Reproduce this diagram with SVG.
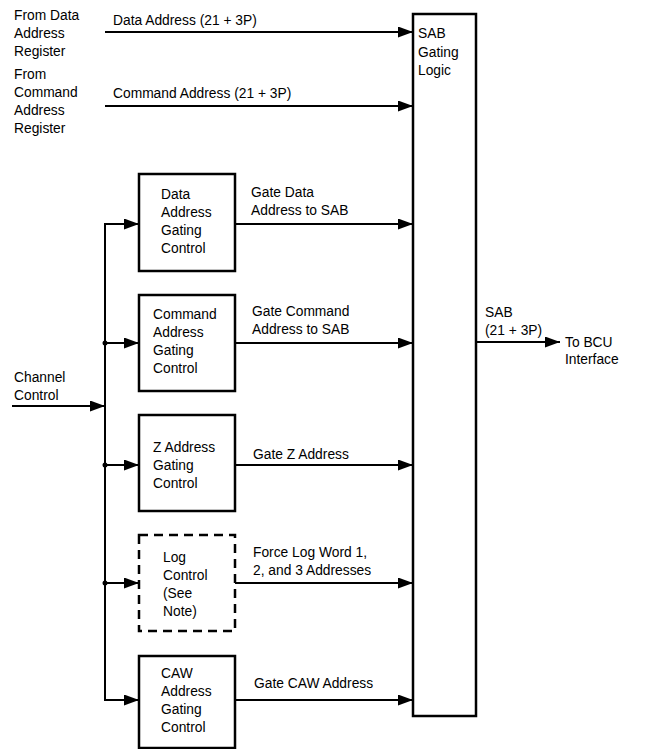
<svg xmlns="http://www.w3.org/2000/svg" width="645" height="749" viewBox="0 0 645 749">
<style>
text{font-family:"Liberation Sans",Arial,sans-serif;font-size:13.8px;fill:#000}
.box{fill:#fff;stroke:#000;stroke-width:2.5}
.dash{stroke-dasharray:9,6}
.ln{fill:none;stroke:#000;stroke-width:2}
</style>
<defs>
<marker id="ah" viewBox="0 0 15 11" refX="15" refY="5.5" markerWidth="15" markerHeight="11" markerUnits="userSpaceOnUse" orient="auto">
<path d="M0,0 L15,5.5 L0,11 z" fill="#000"/>
</marker>
</defs>
<g id="labels-left">
<text x="14" y="20">From Data</text>
<text x="14" y="38">Address</text>
<text x="14" y="56">Register</text>
<text x="14" y="79">From</text>
<text x="14" y="97">Command</text>
<text x="14" y="115">Address</text>
<text x="14" y="133">Register</text>
<text x="14" y="382">Channel</text>
<text x="14" y="400">Control</text>
</g>
<g id="sab">
<rect class="box" x="413" y="14" width="63" height="702"/>
<text x="418" y="38">SAB</text>
<text x="418" y="57">Gating</text>
<text x="418" y="75">Logic</text>
</g>
<g id="data-gating">
<rect class="box" x="139" y="174" width="96" height="97"/>
<text x="161" y="199">Data</text>
<text x="161" y="217">Address</text>
<text x="161" y="235">Gating</text>
<text x="161" y="253">Control</text>
</g>
<g id="command-gating">
<rect class="box" x="139" y="295" width="96" height="96"/>
<text x="153" y="319">Command</text>
<text x="153" y="337">Address</text>
<text x="153" y="355">Gating</text>
<text x="153" y="373">Control</text>
</g>
<g id="z-gating">
<rect class="box" x="139" y="415" width="96" height="96"/>
<text x="153" y="452">Z Address</text>
<text x="153" y="470">Gating</text>
<text x="153" y="488">Control</text>
</g>
<g id="log-control">
<rect class="box dash" x="139" y="535" width="96" height="96"/>
<text x="163" y="562">Log</text>
<text x="163" y="580">Control</text>
<text x="163" y="598">(See</text>
<text x="163" y="616">Note)</text>
</g>
<g id="caw-gating">
<rect class="box" x="139" y="656" width="96" height="92"/>
<text x="161" y="678">CAW</text>
<text x="161" y="696">Address</text>
<text x="161" y="714">Gating</text>
<text x="161" y="732">Control</text>
</g>
<g id="connectors">
<line class="ln" x1="105" y1="32" x2="413" y2="32" marker-end="url(#ah)"/>
<line class="ln" x1="105" y1="106" x2="413" y2="106" marker-end="url(#ah)"/>
<line class="ln" x1="12" y1="406" x2="105" y2="406" marker-end="url(#ah)"/>
<polyline class="ln" points="139,224 105,224 105,700 139,700"/>
<line class="ln" x1="105" y1="224" x2="139" y2="224" marker-end="url(#ah)"/>
<line class="ln" x1="105" y1="343" x2="139" y2="343" marker-end="url(#ah)"/>
<line class="ln" x1="105" y1="465" x2="139" y2="465" marker-end="url(#ah)"/>
<line class="ln" x1="105" y1="583" x2="139" y2="583" marker-end="url(#ah)"/>
<line class="ln" x1="105" y1="700" x2="139" y2="700" marker-end="url(#ah)"/>
<circle cx="105" cy="343" r="2.5"/>
<circle cx="105" cy="465" r="2.5"/>
<circle cx="105" cy="583" r="2.5"/>
<line class="ln" x1="235" y1="224" x2="413" y2="224" marker-end="url(#ah)"/>
<line class="ln" x1="235" y1="343" x2="413" y2="343" marker-end="url(#ah)"/>
<line class="ln" x1="235" y1="465" x2="413" y2="465" marker-end="url(#ah)"/>
<line class="ln" x1="235" y1="583" x2="413" y2="583" marker-end="url(#ah)"/>
<line class="ln" x1="235" y1="700" x2="413" y2="700" marker-end="url(#ah)"/>
<line class="ln" x1="476" y1="342" x2="560" y2="342" marker-end="url(#ah)"/>
</g>
<g id="connector-labels">
<text x="113" y="25">Data Address (21 + 3P)</text>
<text x="113" y="98">Command Address (21 + 3P)</text>
<text x="251" y="197">Gate Data</text>
<text x="251" y="215">Address to SAB</text>
<text x="252" y="316">Gate Command</text>
<text x="252" y="334">Address to SAB</text>
<text x="253" y="459">Gate Z Address</text>
<text x="253" y="557">Force Log Word 1,</text>
<text x="253" y="575">2, and 3 Addresses</text>
<text x="254" y="688">Gate CAW Address</text>
<text x="485" y="317">SAB</text>
<text x="485" y="335">(21 + 3P)</text>
<text x="565" y="347">To BCU</text>
<text x="565" y="364">Interface</text>
</g>
</svg>
